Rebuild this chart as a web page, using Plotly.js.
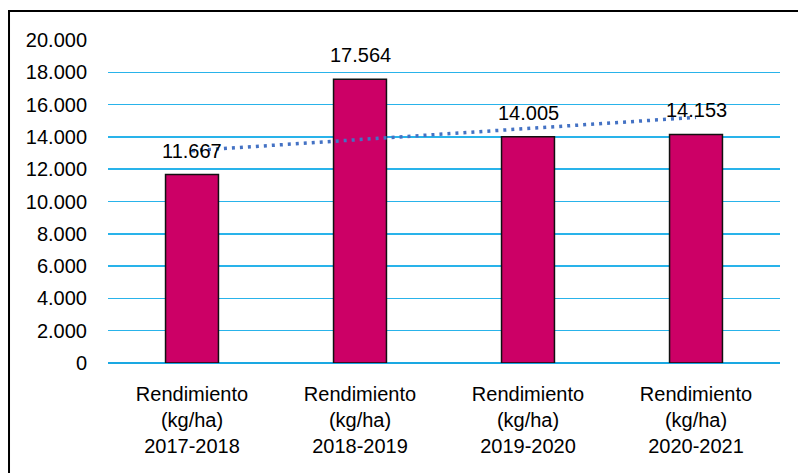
<!DOCTYPE html>
<html>
<head>
<meta charset="utf-8">
<script src="https://cdn.plot.ly/plotly-3.0.1.min.js"></script>
<style>html,body{margin:0;padding:0;background:#fff;}#chart{width:798px;height:473px;}</style>
</head>
<body>
<div id="chart"></div>
<script>
const categories = [
  "Rendimiento<br>(kg/ha)<br>2017-2018",
  "Rendimiento<br>(kg/ha)<br>2018-2019",
  "Rendimiento<br>(kg/ha)<br>2019-2020",
  "Rendimiento<br>(kg/ha)<br>2020-2021"
];
const yieldValues = [11667, 17564, 14005, 14153];
const trendValues = [13150, 13840, 14530, 15210];
const yTickValues = [0, 2000, 4000, 6000, 8000, 10000, 12000, 14000, 16000, 18000, 20000];

function fmt(v) { return String(v).replace(/\B(?=(\d{3})+(?!\d))/g, '.'); }

const font = {family: "Liberation Sans, Arial, sans-serif", size: 20, color: "#000"};

const traces = [
  {
    type: "bar",
    x: categories,
    y: yieldValues,
    width: 0.315,
    marker: {color: "#CC0066", line: {color: "#111", width: 1.5}},
    hoverinfo: "skip"
  },
  {
    type: "scatter",
    mode: "lines",
    x: categories,
    y: trendValues,
    line: {color: "#4472C4", width: 3.5, dash: "3px,5px"},
    hoverinfo: "skip"
  }
];

const annotations = yieldValues.map((v, i) => ({
  x: categories[i], y: v, xref: "x", yref: "y",
  text: fmt(v), showarrow: false, yanchor: "middle", yshift: 24,
  font: font
}));

const layout = {
  width: 798, height: 473,
  margin: {l: 108, r: 18, t: 40, b: 110},
  paper_bgcolor: "#fff", plot_bgcolor: "#fff",
  separators: ",.",
  showlegend: false,
  font: font,
  xaxis: {
    type: "category",
    range: [-0.5, 3.5],
    showgrid: false, showline: false, zeroline: false,
    ticks: "", ticklabelstandoff: 17,
    tickfont: font
  },
  yaxis: {
    range: [0, 20000],
    tickvals: yTickValues,
    ticktext: yTickValues.map(fmt),
    showgrid: true, gridcolor: "#29B3EA", gridwidth: 1.5,
    zeroline: true, zerolinecolor: "#1AA8E2", zerolinewidth: 2.5,
    showline: false, ticks: "", ticklabelstandoff: 20,
    tickfont: font
  },
  annotations: annotations,
  shapes: [
    {type: "line", xref: "paper", yref: "paper", x0: -0.1473, x1: -0.1473, y0: 1.0898, y1: -0.37, line: {color: "#000", width: 2}},
    {type: "line", xref: "paper", yref: "paper", x0: -0.1488, x1: 1.05, y0: 1.0898, y1: 1.0898, line: {color: "#000", width: 2}}
  ]
};

Plotly.newPlot("chart", traces, layout, {displayModeBar: false, staticPlot: true});
</script>
</body>
</html>
